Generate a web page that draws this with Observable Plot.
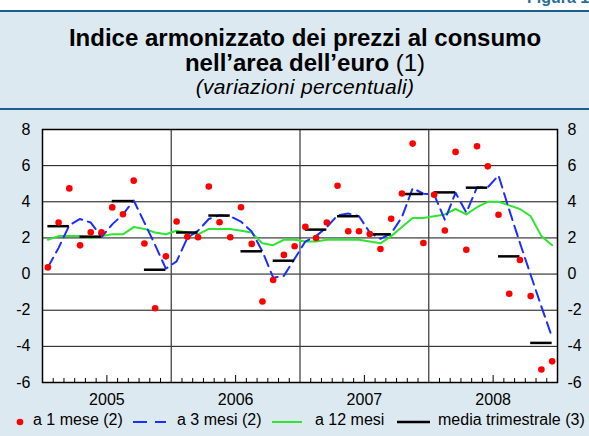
<!DOCTYPE html>
<html><head><meta charset="utf-8">
<script src="https://cdn.jsdelivr.net/npm/d3@7"></script>
<script src="https://cdn.jsdelivr.net/npm/@observablehq/plot@0.6"></script>
<style>
body{margin:0;background:#fff;font-family:Helvetica,Arial,"Liberation Sans",sans-serif;}
#page{position:relative;width:589px;height:436px;overflow:hidden;background:#fff;}
#band{position:absolute;left:0;top:10px;width:589px;height:426px;background:#dde9f0;border-top:2px solid #1d5f8c;box-sizing:border-box;}
#sep{position:absolute;left:0;top:108px;width:589px;height:2px;background:#1d5f8c;}
#fig{position:absolute;left:527px;top:-10px;font-weight:bold;font-size:16px;line-height:1;color:#2a6f9a;white-space:nowrap;}
.t{position:absolute;left:0;width:610px;text-align:center;color:#000;white-space:nowrap;line-height:1;}
#t1{top:26px;font-size:24px;font-weight:bold;}
#t2{top:51px;font-size:24px;}
#t3{top:76px;font-size:21px;font-style:italic;letter-spacing:0.3px;}
#chart{position:absolute;left:0;top:110px;}
#legend{position:absolute;left:0;top:412px;width:589px;height:22px;font-size:16px;line-height:1;}
#legend span{position:absolute;top:0;white-space:nowrap;}
#legend svg{position:absolute;top:0;left:0;}
</style></head>
<body><div id="page">
<div id="fig">Figura 13</div>
<div id="band"></div>
<div id="sep"></div>
<div class="t" id="t1">Indice armonizzato dei prezzi al consumo</div>
<div class="t" id="t2"><b>nell’area dell’euro</b> (1)</div>
<div class="t" id="t3">(variazioni percentuali)</div>
<div id="chart"></div>
<div id="legend">
<svg width="589" height="22">
<circle cx="20" cy="10" r="3.3" fill="#ff0000"/>
<line x1="133" x2="166" y1="10" y2="10" stroke="#1a2eff" stroke-width="2" stroke-dasharray="14,8"/>
<line x1="272" x2="302" y1="10" y2="10" stroke="#2ee62e" stroke-width="2"/>
<line x1="397" x2="430" y1="10" y2="10" stroke="#000" stroke-width="2.5"/>
</svg>
<span style="left:33px">a 1 mese (2)</span>
<span style="left:177px">a 3 mesi (2)</span>
<span style="left:315px">a 12 mesi</span>
<span style="left:438px">media trimestrale (3)</span>
</div>
</div>
<script>
const years = ["2005","2006","2007","2008"];
const yTicks = [-6,-4,-2,0,2,4,6,8];
const mese1 = [0.37,2.85,4.74,1.59,2.31,2.31,3.69,3.31,5.17,1.69,-1.89,0.98,
  2.91,2.06,2.04,4.85,2.87,2.04,3.70,1.67,-1.52,-0.33,1.06,1.54,
  2.61,2.00,2.85,4.89,2.37,2.37,2.22,1.39,3.06,4.46,7.22,1.72,
  4.39,2.41,6.76,1.35,7.07,5.96,3.28,-1.09,0.78,-1.22,-5.28,-4.83];
const mesi3 = [0.37,1.45,2.70,3.05,2.85,2.05,2.75,3.30,4.07,2.85,1.60,0.30,
  0.70,2.00,2.40,3.05,3.25,3.20,2.90,2.35,1.25,-0.20,-0.10,0.85,
  1.80,2.10,2.60,3.25,3.35,3.20,2.30,1.95,2.25,3.15,4.75,4.45,
  4.40,3.00,4.50,3.40,4.80,4.80,5.46,3.55,1.72,-0.05,-1.80,-3.50];
const mesi12 = [1.9,2.1,2.1,2.1,2.0,2.1,2.2,2.2,2.6,2.5,2.3,2.2,
  2.4,2.3,2.2,2.5,2.5,2.5,2.4,2.3,1.7,1.6,1.9,1.9,
  1.8,1.8,1.9,1.9,1.9,1.9,1.8,1.7,2.1,2.6,3.1,3.1,
  3.2,3.3,3.6,3.3,3.7,4.0,4.0,3.8,3.6,3.2,2.1,1.6];
const trimestrale = [2.65,2.07,4.04,0.24, 2.30,3.24,1.26,0.74, 2.46,3.20,2.20,4.43, 4.52,4.78,0.98,-3.81];

const months = mese1.map((v,i)=>({i, m1:v, m3:mesi3[i], m12:mesi12[i]}));
const quarters = trimestrale.map((v,q)=>({q, v}));
const monthTicks = d3.range(1,48).filter(d=>d%12!==0 && d%12!==6);
const midYear = years.map((y,k)=>k*12+6);
const yearLines = [12,24,36];
const xc = d=>d.i+0.5;

const chart = Plot.plot({
  width:589, height:300,
  marginLeft:42, marginRight:32, marginTop:19, marginBottom:28,
  x:{domain:[0,48], axis:null},
  y:{domain:[-6,8], axis:null},
  style:{background:"transparent", fontFamily:"Helvetica, Arial, 'Liberation Sans', sans-serif", fontSize:"16px", color:"#000"},
  marks:[
    Plot.frame({fill:"#fff", stroke:null}),
    Plot.ruleY([-4,-2,0,2,4,6], {stroke:"#111", strokeWidth:1}),
    Plot.ruleX(yearLines, {stroke:"#444", strokeWidth:1.3}),
    Plot.axisX({anchor:"bottom", ticks:monthTicks, tickSize:-4, tickFormat:()=>"", stroke:"#000"}),
    Plot.axisX({anchor:"bottom", ticks:midYear, tickSize:-7, tickFormat:()=>"", stroke:"#000"}),
    Plot.axisX({anchor:"bottom", ticks:midYear, tickSize:0, tickPadding:11, tickFormat:(d,i)=>years[i], fontSize:16, fill:"#000"}),
    Plot.axisY({anchor:"left", ticks:yTicks, tickSize:0, tickPadding:12, tickFormat:d=>String(d), fontSize:16, fill:"#000"}),
    Plot.axisY({anchor:"right", ticks:yTicks, tickSize:0, tickPadding:10, tickFormat:d=>String(d), fontSize:16, fill:"#000"}),
    Plot.line(months, {x:xc, y:"m12", stroke:"#2ee62e", strokeWidth:2}),
    Plot.line(months, {x:xc, y:"m3", stroke:"#1a2eff", strokeWidth:2, strokeDasharray:"11,6"}),
    Plot.ruleY(quarters, {y:"v", x1:d=>d.q*3+0.5, x2:d=>d.q*3+2.5, stroke:"#000", strokeWidth:2.5}),
    Plot.dot(months, {x:xc, y:"m1", r:3.3, fill:"#ff0000", stroke:null}),
    Plot.frame({stroke:"#000", strokeWidth:1.5})
  ]
});
document.getElementById("chart").appendChild(chart);
</script>
</body></html>
